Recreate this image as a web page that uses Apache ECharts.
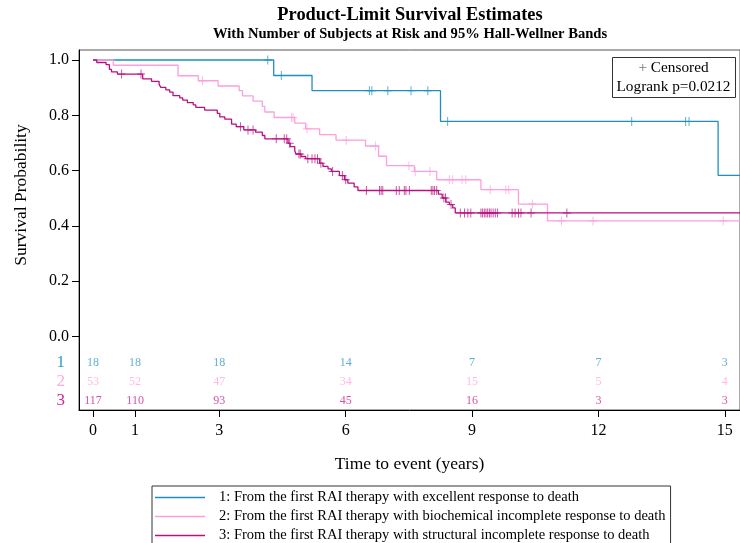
<!DOCTYPE html>
<html><head><meta charset="utf-8">
<script src="https://cdn.jsdelivr.net/npm/echarts@6/dist/echarts.min.js"></script>
<style>html,body{margin:0;padding:0;background:#fff}#c{width:740px;height:543px}</style>
</head><body><div id="c"></div>
<script>
// ---------------- data ----------------
const groupIds = ['1', '2', '3'];
const groupNames = [
  '1: From the first RAI therapy with excellent response to death',
  '2: From the first RAI therapy with biochemical incomplete response to death',
  '3: From the first RAI therapy with structural incomplete response to death'
];
// Kaplan-Meier steps: event times and survival after each event (last entry = end of follow-up)
const times1 = [0, 4.29, 5.2, 8.25, 14.84, 15.5];
const surv1  = [1, 0.944, 0.889, 0.778, 0.583, 0.583];
const cens1  = [4.15, 4.47, 6.56, 6.62, 7.0, 7.55, 7.95, 8.42, 12.79, 14.07, 14.15];

const times2 = [0, 0.48, 2.02, 2.5, 2.97, 3.47, 3.55, 3.8, 4.02, 4.08, 4.3, 4.79, 5.05, 5.38, 5.77, 6.47, 6.78, 6.97, 7.63, 8.16, 9.21, 10.1, 10.79, 15.5];
const surv2  = [1, 0.981, 0.943, 0.925, 0.906, 0.889, 0.870, 0.851, 0.832, 0.812, 0.792, 0.772, 0.751, 0.730, 0.710, 0.689, 0.652, 0.618, 0.597, 0.567, 0.531, 0.479, 0.418, 0.418];
const cens2  = [2.6, 4.71, 4.75, 5.08, 6.01, 6.71, 7.5, 7.65, 8.0, 8.46, 8.54, 8.76, 8.85, 9.43, 9.8, 9.87, 10.43, 11.12, 11.87, 14.96];

const times3 = [0, 0.09, 0.31, 0.39, 0.44, 0.58, 1.18, 1.39, 1.57, 1.61, 1.73, 1.82, 1.9, 2.06, 2.13, 2.24, 2.38, 2.44, 2.65, 2.95, 3.01, 3.13, 3.29, 3.4, 3.58, 3.86, 4.02, 4.08, 4.63, 4.68, 4.79, 4.82, 4.94, 5.05, 5.38, 5.46, 5.58, 5.66, 5.85, 5.97, 6.05, 6.2, 6.29, 8.2, 8.29, 8.38, 8.46, 8.54, 8.6, 15.5];
const surv3  = [1, 0.991, 0.983, 0.966, 0.957, 0.949, 0.932, 0.923, 0.912, 0.901, 0.892, 0.884, 0.871, 0.863, 0.855, 0.846, 0.838, 0.829, 0.819, 0.807, 0.794, 0.786, 0.768, 0.759, 0.747, 0.739, 0.727, 0.715, 0.699, 0.687, 0.672, 0.660, 0.651, 0.643, 0.627, 0.615, 0.606, 0.597, 0.582, 0.567, 0.555, 0.541, 0.528, 0.515, 0.501, 0.486, 0.477, 0.465, 0.447, 0.447];
const cens3  = [0.68, 1.14, 3.5, 3.68, 3.8, 4.35, 4.54, 4.6, 4.67, 4.89, 4.92, 5.1, 5.2, 5.27, 5.33, 5.41, 5.69, 5.92, 6.0, 6.49, 6.8, 6.84, 6.88, 7.2, 7.27, 7.39, 7.43, 7.51, 8.03, 8.07, 8.11, 8.16, 8.33, 8.37, 8.5, 8.72, 8.82, 8.9, 8.97, 9.21, 9.25, 9.29, 9.33, 9.37, 9.41, 9.45, 9.5, 9.55, 9.6, 9.95, 10.02, 10.1, 10.16, 10.4, 11.25];

// Number at risk
const riskTimes = [0, 1, 3, 6, 9, 12, 15];
const risk1 = [18, 18, 18, 14, 7, 7, 3];
const risk2 = [53, 52, 47, 34, 15, 5, 4];
const risk3 = [117, 110, 93, 45, 16, 3, 3];

const yTicks = [0, 0.2, 0.4, 0.6, 0.8, 1.0];
const xTicks = [0, 1, 3, 6, 9, 12, 15];
const logrankText = 'Logrank p=0.0212';

// ---------------- styling / layout ----------------
const colors = ['#1e8fc0', '#fc9fdc', '#b8117f'];
const riskColors = ['#3a9cc8', '#ffaadd', '#c8288e'];
const FONT = '"Liberation Serif", "Times New Roman", serif';
const riskRowY = [-0.094, -0.163, -0.231]; // layout rows of the at-risk table (axis units)

function survAt(times, surv, t) {
  let v = surv[0];
  for (let i = 0; i < times.length; i++) { if (times[i] <= t) v = surv[i]; else break; }
  return v;
}
const allTimes = [times1, times2, times3];
const allSurv = [surv1, surv2, surv3];
const allCens = [cens1, cens2, cens3];
const allRisk = [risk1, risk2, risk3];

const plusPath = 'path://M4,0 L5,0 L5,4 L9,4 L9,5 L5,5 L5,9 L4,9 L4,5 L0,5 L0,4 L4,4 Z';

const series = [];
for (let g = 0; g < 3; g++) {
  series.push({
    name: groupNames[g], type: 'line', step: 'end', showSymbol: false, symbol: 'none',
    data: allTimes[g].map((t, i) => [t, allSurv[g][i]]),
    lineStyle: { color: colors[g], width: 1.3 }, itemStyle: { color: colors[g] },
    z: 3 + g, clip: true, silent: true
  });
}
for (let g = 0; g < 3; g++) {
  series.push({
    name: 'cens' + groupIds[g], type: 'scatter', symbol: plusPath, symbolSize: [8, 9],
    data: allCens[g].map(t => [t, survAt(allTimes[g], allSurv[g], t)]),
    itemStyle: { color: colors[g] }, z: 6 + g, silent: true
  });
}
for (let g = 0; g < 3; g++) {
  series.push({
    name: 'risk' + groupIds[g], type: 'scatter', symbolSize: 0,
    data: riskTimes.map((t, i) => [t, riskRowY[g], allRisk[g][i]]),
    label: { show: true, position: 'inside', formatter: p => String(p.value[2]),
      color: riskColors[g], fontSize: 12, fontFamily: FONT },
    silent: true, z: 10
  });
}

const yLabelVals = yTicks.concat(riskRowY);
const chart = echarts.init(document.getElementById('c'), null, { renderer: 'canvas' });
chart.setOption({
  animation: false,
  backgroundColor: '#fff',
  grid: { left: 79, top: 50, right: -1, bottom: 133, show: true, borderColor: '#555', borderWidth: 1, backgroundColor: 'transparent' },
  xAxis: {
    type: 'value', min: -0.332, max: 15.36,
    axisLine: { show: true, onZero: false, lineStyle: { color: '#000', width: 1 } },
    axisTick: { show: true, customValues: xTicks, length: 7, lineStyle: { color: '#000' } },
    axisLabel: { customValues: xTicks, margin: 13, fontSize: 16, fontFamily: FONT, color: '#000' },
    splitLine: { show: false },
    name: 'Time to event (years)', nameLocation: 'middle', nameGap: 45,
    nameTextStyle: { fontSize: 17.5, fontFamily: FONT, color: '#000' }
  },
  yAxis: {
    type: 'value', min: -0.2658, max: 1.0362,
    axisLine: { show: true, onZero: false, lineStyle: { color: '#000', width: 1 } },
    axisTick: { show: true, customValues: yTicks, length: 7, lineStyle: { color: '#000' } },
    axisLabel: {
      customValues: yLabelVals, margin: 10, fontSize: 16, fontFamily: FONT, color: '#000',
      formatter: v => {
        for (let g = 0; g < 3; g++) if (Math.abs(v - riskRowY[g]) < 1e-6) return '{g' + g + '|' + groupIds[g] + '}';
        return v.toFixed(1);
      },
      rich: {
        g0: { color: riskColors[0], fontSize: 17, fontFamily: FONT, padding: [0, 4, 0, 0] },
        g1: { color: riskColors[1], fontSize: 17, fontFamily: FONT, padding: [0, 4, 0, 0] },
        g2: { color: riskColors[2], fontSize: 17, fontFamily: FONT, padding: [0, 4, 0, 0] }
      }
    },
    splitLine: { show: false }
  },
  legend: {
    data: groupNames.map(n => ({ name: n, icon: 'rect' })),
    orient: 'vertical', left: 152, top: 486, height: 90,
    itemWidth: 50, itemHeight: 1.5, itemGap: 4,
    borderColor: '#333', borderWidth: 1, padding: [4, 5, 8, 3],
    textStyle: { fontSize: 14.5, fontFamily: FONT, color: '#000', padding: [0, 0, 0, 9] },
    selectedMode: false
  },
  graphic: [
    { type: 'text', style: { text: 'Product-Limit Survival Estimates', x: 410, y: 15, align: 'center', verticalAlign: 'middle', font: 'bold 18.4px ' + FONT, fill: '#000' } },
    { type: 'text', style: { text: 'With Number of Subjects at Risk and 95% Hall-Wellner Bands', x: 410, y: 34, align: 'center', verticalAlign: 'middle', font: 'bold 14.6px ' + FONT, fill: '#000' } },
    { type: 'text', rotation: Math.PI / 2, x: 21, y: 195, style: { text: 'Survival Probability', x: 0, y: 0, align: 'center', verticalAlign: 'middle', font: '17.5px ' + FONT, fill: '#000' } },
    { type: 'rect', shape: { x: 612.5, y: 57.5, width: 123, height: 40 }, style: { fill: '#fff', stroke: '#333', lineWidth: 1 }, z: 20 },
    { type: 'text', z: 21, style: { text: '{p|+} Censored', x: 673.5, y: 68, align: 'center', verticalAlign: 'middle', font: '15.3px ' + FONT, fill: '#000', rich: { p: { fill: '#777', font: '15.3px ' + FONT } } } },
    { type: 'text', z: 21, style: { text: logrankText, x: 673.5, y: 87, align: 'center', verticalAlign: 'middle', font: '15.3px ' + FONT, fill: '#000' } }
  ],
  series: series
});
</script></body></html>
